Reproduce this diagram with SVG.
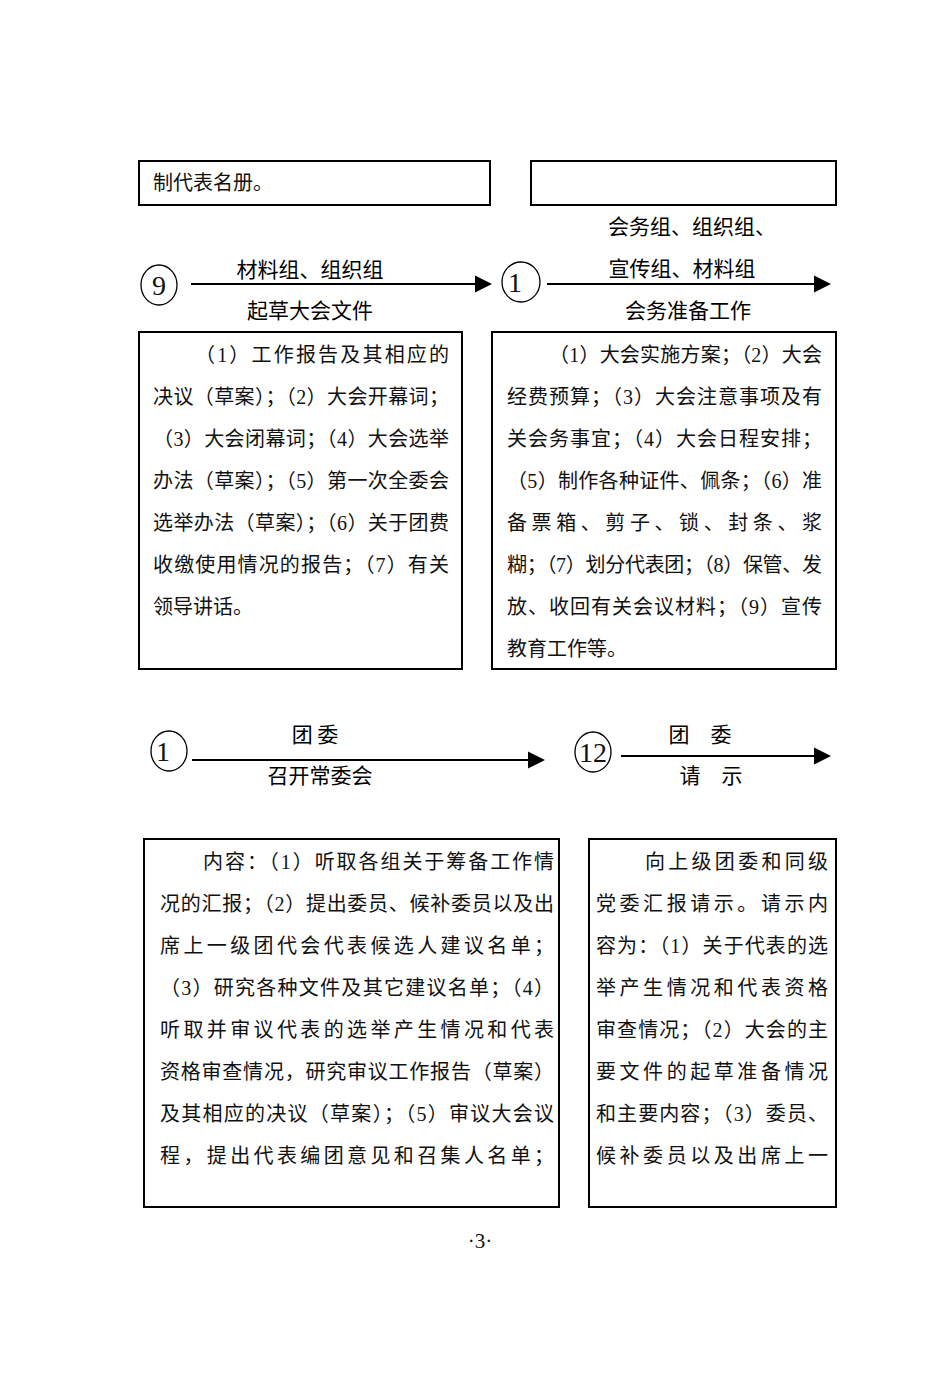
<svg xmlns="http://www.w3.org/2000/svg" width="950" height="1373" viewBox="0 0 950 1373">
<style>
.box{fill:#fff;stroke:#000;stroke-width:2}
.t{font-family:"Liberation Serif","Noto Sans CJK SC",serif;font-size:20px;fill:#111}
.lbl{font-family:"Noto Sans CJK SC","Noto Sans",sans-serif;font-size:21px;font-weight:normal;fill:#000;text-anchor:middle}
.num{font-family:"Liberation Serif",serif;font-size:28px;fill:#111;text-anchor:middle}
.ell{fill:none;stroke:#000;stroke-width:1.3}
.ln{stroke:#000;stroke-width:2.2;fill:none}
</style>
<defs>
<marker id="ah" markerWidth="8" markerHeight="8" refX="7" refY="4" orient="auto" markerUnits="strokeWidth">
<path d="M0,0 L8,4 L0,8 Z" fill="#000"/>
</marker>
</defs>
<rect width="950" height="1373" fill="#fff"/>

<g id="top-left">
<rect class="box" x="139" y="161" width="351" height="44"/>
<text class="t" x="153" y="190">制代表名册。</text>
</g>
<g id="top-right">
<rect class="box" x="531" y="161" width="305" height="44"/>
</g>

<g id="n9">
<ellipse class="ell" cx="159" cy="285" rx="18" ry="20"/>
<text class="num" x="159" y="295">9</text>
</g>
<g id="n10">
<ellipse class="ell" cx="521" cy="282" rx="19" ry="20"/>
<text class="num" x="515" y="292">1</text>
</g>
<g id="n11">
<ellipse class="ell" cx="169" cy="751" rx="18" ry="20"/>
<text class="num" x="163" y="761">1</text>
</g>
<g id="n12">
<ellipse class="ell" cx="593" cy="752" rx="18" ry="20"/>
<text class="num" x="593" y="762" textLength="28" lengthAdjust="spacingAndGlyphs">12</text>
</g>

<g id="connectors">
<line class="ln" x1="191" y1="284" x2="490" y2="284" marker-end="url(#ah)"/>
<line class="ln" x1="547" y1="284" x2="829" y2="284" marker-end="url(#ah)"/>
<line class="ln" x1="192" y1="760" x2="543" y2="760" marker-end="url(#ah)"/>
<line class="ln" x1="621" y1="756" x2="829" y2="756" marker-end="url(#ah)"/>
<text class="lbl" x="310" y="277">材料组、组织组</text>
<text class="lbl" x="310" y="318">起草大会文件</text>
<text class="lbl" x="692" y="234">会务组、组织组、</text>
<text class="lbl" x="682" y="276">宣传组、材料组</text>
<text class="lbl" x="688" y="318">会务准备工作</text>
<text class="lbl" x="315" y="742">团 委</text>
<text class="lbl" x="320" y="783">召开常委会</text>
<text class="lbl" x="700" y="742">团　委</text>
<text class="lbl" x="711" y="783">请　示</text>
</g>

<g id="box-9">
<rect class="box" x="139" y="332" width="323" height="337"/>
<text class="t" x="195" y="362" textLength="254" lengthAdjust="spacing">（1）工作报告及其相应的</text>
<text class="t" x="153" y="404" textLength="296" lengthAdjust="spacing">决议（草案）；（2）大会开幕词；</text>
<text class="t" x="153" y="446" textLength="296" lengthAdjust="spacing">（3）大会闭幕词；（4）大会选举</text>
<text class="t" x="153" y="488" textLength="296" lengthAdjust="spacing">办法（草案）；（5）第一次全委会</text>
<text class="t" x="153" y="530" textLength="296" lengthAdjust="spacing">选举办法（草案）；（6）关于团费</text>
<text class="t" x="153" y="572" textLength="296" lengthAdjust="spacing">收缴使用情况的报告；（7）有关</text>
<text class="t" x="153" y="614">领导讲话。</text>
</g>

<g id="box-10">
<rect class="box" x="492" y="332" width="344" height="337"/>
<text class="t" x="549" y="362" textLength="273" lengthAdjust="spacing">（1）大会实施方案；（2）大会</text>
<text class="t" x="507" y="404" textLength="315" lengthAdjust="spacing">经费预算；（3）大会注意事项及有</text>
<text class="t" x="507" y="446" textLength="315" lengthAdjust="spacing">关会务事宜；（4）大会日程安排；</text>
<text class="t" x="507" y="488" textLength="315" lengthAdjust="spacing">（5）制作各种证件、佩条；（6）准</text>
<text class="t" x="507" y="530" textLength="315" lengthAdjust="spacing">备票箱、剪子、锁、封条、浆</text>
<text class="t" x="507" y="572" textLength="315" lengthAdjust="spacing">糊；（7）划分代表团；（8）保管、发</text>
<text class="t" x="507" y="614" textLength="315" lengthAdjust="spacing">放、收回有关会议材料；（9）宣传</text>
<text class="t" x="507" y="656">教育工作等。</text>
</g>

<g id="box-11">
<rect class="box" x="144" y="839" width="415" height="368"/>
<text class="t" x="203" y="869" textLength="351" lengthAdjust="spacing">内容：（1）听取各组关于筹备工作情</text>
<text class="t" x="160" y="911" textLength="394" lengthAdjust="spacing">况的汇报；（2）提出委员、候补委员以及出</text>
<text class="t" x="160" y="953" textLength="394" lengthAdjust="spacing">席上一级团代会代表候选人建议名单；</text>
<text class="t" x="160" y="995" textLength="394" lengthAdjust="spacing">（3）研究各种文件及其它建议名单；（4）</text>
<text class="t" x="160" y="1037" textLength="394" lengthAdjust="spacing">听取并审议代表的选举产生情况和代表</text>
<text class="t" x="160" y="1079" textLength="394" lengthAdjust="spacing">资格审查情况，研究审议工作报告（草案）</text>
<text class="t" x="160" y="1121" textLength="394" lengthAdjust="spacing">及其相应的决议（草案）；（5）审议大会议</text>
<text class="t" x="160" y="1163" textLength="394" lengthAdjust="spacing">程，提出代表编团意见和召集人名单；</text>
</g>

<g id="box-12">
<rect class="box" x="589" y="839" width="247" height="368"/>
<text class="t" x="645" y="869" textLength="183" lengthAdjust="spacing">向上级团委和同级</text>
<text class="t" x="596" y="911" textLength="232" lengthAdjust="spacing">党委汇报请示。请示内</text>
<text class="t" x="596" y="953" textLength="232" lengthAdjust="spacing">容为：（1）关于代表的选</text>
<text class="t" x="596" y="995" textLength="232" lengthAdjust="spacing">举产生情况和代表资格</text>
<text class="t" x="596" y="1037" textLength="232" lengthAdjust="spacing">审查情况；（2）大会的主</text>
<text class="t" x="596" y="1079" textLength="232" lengthAdjust="spacing">要文件的起草准备情况</text>
<text class="t" x="596" y="1121" textLength="232" lengthAdjust="spacing">和主要内容；（3）委员、</text>
<text class="t" x="596" y="1163" textLength="232" lengthAdjust="spacing">候补委员以及出席上一</text>
</g>

<text class="t" x="480" y="1248" text-anchor="middle" style="font-size:21px">·3·</text>
</svg>
